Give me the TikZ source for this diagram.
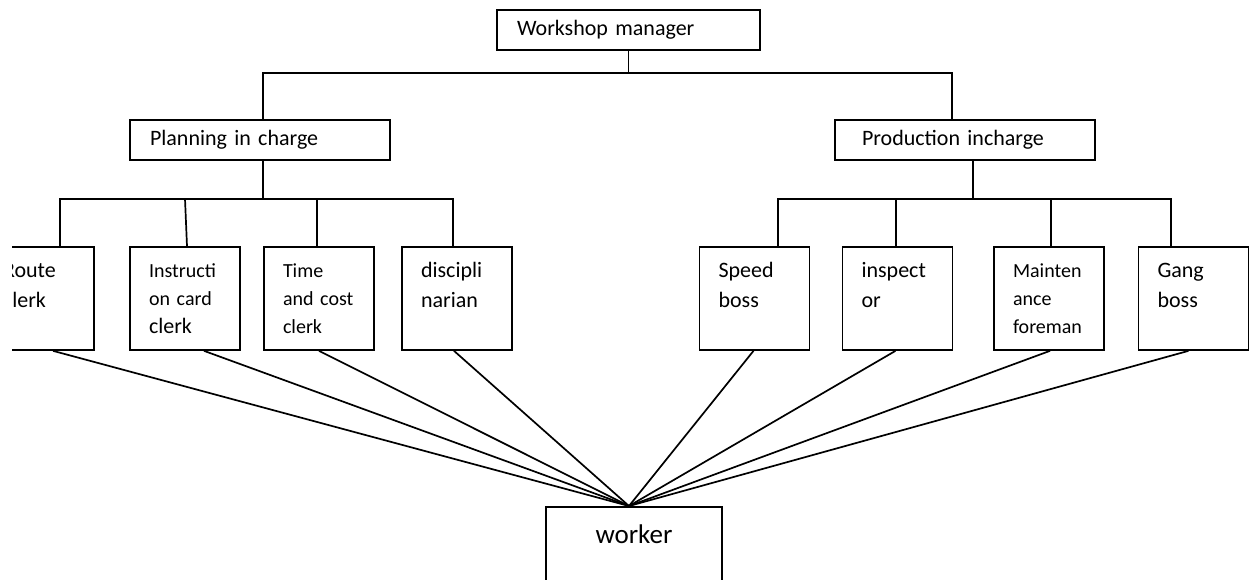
\documentclass[tikz,border=0pt]{standalone}
\usepackage{fontspec}
\setmainfont{Carlito}[WordSpace=0.7]
\usepackage{tikz}

\newcommand{\bigtext}{\fontsize{22}{30}\selectfont}
\newcommand{\smalltext}{\fontsize{20}{28}\selectfont}

\begin{document}
\begin{tikzpicture}[x=1pt,y=-1pt,line width=1.7pt,
  headbox/.style={draw,inner sep=0pt,minimum height=40pt,align=left,font=\bigtext},
  leaf/.style={draw,inner sep=0pt,minimum width=110pt,text width=72pt,align=left,
    text height=30pt,text depth=73pt,font=\bigtext},
  fine/.style={font=\smalltext}]

  \useasboundingbox (0,0) rectangle (1249,580);
  \clip (12,0) rectangle (1249,580);

  \node[headbox] (mgr) [minimum width=263pt,text width=223pt] at (628.5,30) {Workshop manager};
  \node[headbox] (plan) [minimum width=260pt,text width=220pt] at (260,140) {Planning in charge};
  \node[headbox] (prod) [minimum width=260pt,text width=206pt] at (965,140) {Production incharge};

  \node[leaf] (route) [] at (39,298.5) {Route\\clerk};
  \node[leaf,fine] (instr) [] at (185,298.5) {Instructi\\on card\\{\bigtext clerk}};
  \node[leaf,fine] (time) [] at (319,298.5) {Time\\and cost\\clerk};
  \node[leaf] (disc) [] at (457,298.5) {discipli\\narian};

  \node[leaf] (speed) [] at (754.5,298.5) {Speed\\boss};
  \node[leaf] (insp) [] at (897.5,298.5) {inspect\\or};
  \node[leaf,fine] (maint) [] at (1049,298.5) {Mainten\\ance\\foreman};
  \node[leaf] (gang) [] at (1193.5,298.5) {Gang\\boss};

  \node[draw,inner sep=0pt,minimum width=176pt,text height=37pt,text depth=80pt,
    font=\fontsize{27}{32}\selectfont] (worker) [anchor=north] at (634,506) {worker};

  % manager to the two heads
  \draw (mgr.south) -- ++(0,22) coordinate (mbus);
  \draw ([xshift=3pt]plan.north) |- (mbus) -| ([xshift=-13pt]prod.north);

  % planning side
  \draw ([xshift=3pt]plan.south) -- ++(0,38) coordinate (pbus);
  \draw ([xshift=21pt]route.north) |- (pbus);
  \draw ([xshift=2pt]instr.north) -- (instr.north |- pbus) -- (pbus);
  \draw ([xshift=-2pt]time.north) |- (pbus);
  \draw ([xshift=-4pt]disc.north) |- (pbus);

  % production side
  \draw ([xshift=8pt]prod.south) -- ++(0,38) coordinate (rbus);
  \draw ([xshift=23.5pt]speed.north) |- (rbus);
  \draw ([xshift=-1.5pt]insp.north) |- (rbus);
  \draw ([xshift=2pt]maint.north) |- (rbus);
  \draw ([xshift=-22.5pt]gang.north) |- (rbus);

  % everyone down to the worker
  \coordinate (hub) at ([xshift=-5pt]worker.north);
  \path (hub) edge ([xshift=14pt]route.south);
  \path (hub) edge ([xshift=19pt]instr.south);
  \path (hub) edge (time.south);
  \path (hub) edge ([xshift=-3pt]disc.south);
  \path (hub) edge ([xshift=-1pt]speed.south);
  \path (hub) edge ([xshift=-2pt]insp.south);
  \path (hub) edge ([xshift=1pt]maint.south);
  \path (hub) edge ([xshift=-5pt]gang.south);

\end{tikzpicture}
\end{document}
